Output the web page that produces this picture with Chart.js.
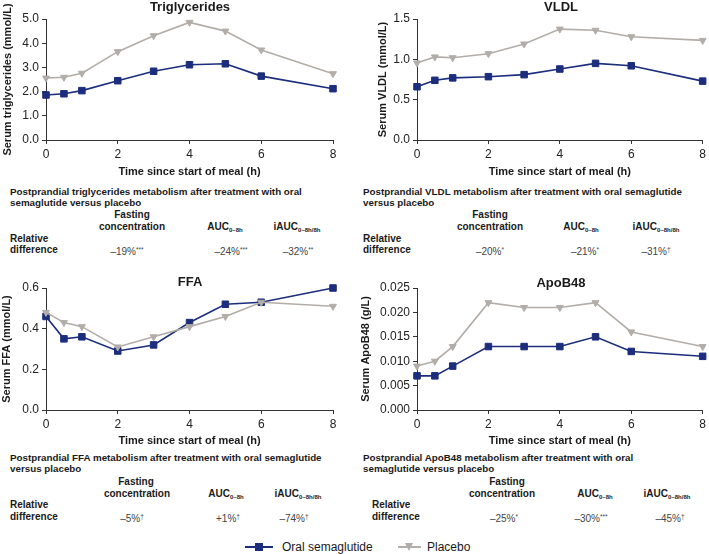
<!DOCTYPE html>
<html>
<head>
<meta charset="utf-8">
<script src="https://cdn.jsdelivr.net/npm/chart.js@4/dist/chart.umd.min.js"></script>
<style>
  body { margin: 0; background: #fff; font-family: "Liberation Sans", Arial, sans-serif; color: #1a1a1a; }
  #page { position: relative; width: 709px; height: 554px; overflow: hidden; }
  canvas { position: absolute; }
  .t { position: absolute; white-space: nowrap; line-height: 12px; font-size: 9.8px; font-weight: bold; }
  .c { text-align: center; width: 140px; }
  .h { font-size: 10px; font-weight: bold; }
  .v { font-size: 10px; font-weight: normal; color: #444; }
  .ttl { position: absolute; width: 160px; text-align: center; font-size: 13px; font-weight: bold; line-height: 16px; }
  sub { font-size: 6px; vertical-align: -2px; }
  sup { font-size: 6.5px; vertical-align: 3px; }
  .leg { position: absolute; top: 540px; height: 14px; font-size: 12px; line-height: 14px; white-space: nowrap; }
  .leg span { position: absolute; white-space: nowrap; }
  .leg .ln { position: absolute; top: 6px; height: 2px; }
  .leg .sq { position: absolute; top: 3px; width: 8px; height: 8px; }
  .leg .tri { position: absolute; top: 3px; width: 0; height: 0; border-left: 4.5px solid transparent; border-right: 4.5px solid transparent; border-top: 8px solid #b2ada8; }
</style>
</head>
<body>
<div id="page">
  <canvas id="cTG" width="350" height="180" style="left:0;top:0"></canvas>
  <canvas id="cVLDL" width="354" height="180" style="left:355px;top:0"></canvas>
  <canvas id="cFFA" width="350" height="180" style="left:0;top:269px"></canvas>
  <canvas id="cAPO" width="354" height="180" style="left:355px;top:269px"></canvas>

  <div class="ttl" style="left:110px;top:-1px">Triglycerides</div>
  <div class="ttl" style="left:481px;top:-1px">VLDL</div>
  <div class="ttl" style="left:110px;top:274px">FFA</div>
  <div class="ttl" style="left:481px;top:275px">ApoB48</div>

  <!-- Triglycerides table -->
  <div class="t" style="left:10px;top:186px">Postprandial triglycerides metabolism after treatment with oral</div>
  <div class="t" style="left:10px;top:197px">semaglutide versus placebo</div>
  <div class="t h c" style="left:62px;top:209px">Fasting</div>
  <div class="t h c" style="left:62px;top:221px">concentration</div>
  <div class="t h c" style="left:155px;top:221px">AUC<sub>0–8h</sub></div>
  <div class="t h c" style="left:227px;top:221px">iAUC<sub>0–8h/8h</sub></div>
  <div class="t h" style="left:10px;top:233px">Relative</div>
  <div class="t h" style="left:10px;top:244px">difference</div>
  <div class="t v c" style="left:57px;top:244px">–19%<sup>***</sup></div>
  <div class="t v c" style="left:161px;top:244px">–24%<sup>***</sup></div>
  <div class="t v c" style="left:228px;top:244px">–32%<sup>**</sup></div>

  <!-- VLDL table -->
  <div class="t" style="left:363px;top:186px">Postprandial VLDL metabolism after treatment with oral semaglutide</div>
  <div class="t" style="left:363px;top:197px">versus placebo</div>
  <div class="t h c" style="left:420px;top:209px">Fasting</div>
  <div class="t h c" style="left:420px;top:221px">concentration</div>
  <div class="t h c" style="left:511px;top:221px">AUC<sub>0–8h</sub></div>
  <div class="t h c" style="left:586px;top:221px">iAUC<sub>0–8h/8h</sub></div>
  <div class="t h" style="left:363px;top:233px">Relative</div>
  <div class="t h" style="left:363px;top:244px">difference</div>
  <div class="t v c" style="left:420px;top:244px">–20%<sup>*</sup></div>
  <div class="t v c" style="left:515px;top:244px">–21%<sup>*</sup></div>
  <div class="t v c" style="left:586px;top:244px">–31%<sup>†</sup></div>

  <!-- FFA table -->
  <div class="t" style="left:10px;top:452px">Postprandial FFA metabolism after treatment with oral semaglutide</div>
  <div class="t" style="left:10px;top:463px">versus placebo</div>
  <div class="t h c" style="left:66px;top:476px">Fasting</div>
  <div class="t h c" style="left:67px;top:488px">concentration</div>
  <div class="t h c" style="left:156px;top:488px">AUC<sub>0–8h</sub></div>
  <div class="t h c" style="left:228px;top:488px">iAUC<sub>0–8h/8h</sub></div>
  <div class="t h" style="left:10px;top:499px">Relative</div>
  <div class="t h" style="left:10px;top:511px">difference</div>
  <div class="t v c" style="left:62px;top:511px">–5%<sup>†</sup></div>
  <div class="t v c" style="left:158px;top:511px">+1%<sup>†</sup></div>
  <div class="t v c" style="left:224px;top:511px">–74%<sup>†</sup></div>

  <!-- ApoB48 table -->
  <div class="t" style="left:363px;top:452px">Postprandial ApoB48 metabolism after treatment with oral</div>
  <div class="t" style="left:363px;top:463px">semaglutide versus placebo</div>
  <div class="t h c" style="left:437px;top:476px">Fasting</div>
  <div class="t h c" style="left:432px;top:488px">concentration</div>
  <div class="t h c" style="left:525px;top:488px">AUC<sub>0–8h</sub></div>
  <div class="t h c" style="left:597px;top:488px">iAUC<sub>0–8h/8h</sub></div>
  <div class="t h" style="left:372px;top:499px">Relative</div>
  <div class="t h" style="left:372px;top:511px">difference</div>
  <div class="t v c" style="left:434px;top:511px">–25%<sup>*</sup></div>
  <div class="t v c" style="left:521px;top:511px">–30%<sup>***</sup></div>
  <div class="t v c" style="left:600px;top:511px">–45%<sup>†</sup></div>

  <!-- shared legend -->
  <div class="leg" style="left:245px;width:130px">
    <div class="ln" style="left:0;width:28px;background:#1b2d7c"></div>
    <div class="sq" style="left:10px;background:#1b2d7c"></div>
    <span style="left:37px">Oral semaglutide</span>
  </div>
  <div class="leg" style="left:398px;width:80px">
    <div class="ln" style="left:0;width:23px;background:#b2ada8"></div>
    <div class="tri" style="left:7px"></div>
    <span style="left:29px">Placebo</span>
  </div>
</div>

<script>
// time points (h)
const TIME_H = [0, 0.5, 1, 2, 3, 4, 5, 6, 8];

// Triglycerides (mmol/L)
const TG_SEMA = [1.86, 1.91, 2.04, 2.45, 2.84, 3.11, 3.15, 2.64, 2.12];
const TG_PLAC = [2.56, 2.59, 2.76, 3.65, 4.31, 4.86, 4.50, 3.72, 2.74];

// VLDL (mmol/L)
const VLDL_SEMA = [0.66, 0.74, 0.77, 0.785, 0.81, 0.88, 0.95, 0.92, 0.73];
const VLDL_PLAC = [0.955, 1.03, 1.02, 1.07, 1.19, 1.375, 1.36, 1.28, 1.235];

// FFA (mmol/L)
const FFA_SEMA = [0.46, 0.35, 0.36, 0.29, 0.32, 0.43, 0.52, 0.53, 0.60];
const FFA_PLAC = [0.48, 0.43, 0.41, 0.31, 0.36, 0.41, 0.46, 0.53, 0.51];

// ApoB48 (g/L)
const APO_SEMA = [0.007, 0.007, 0.009, 0.013, 0.013, 0.013, 0.015, 0.012, 0.011];
const APO_PLAC = [0.009, 0.010, 0.013, 0.022, 0.021, 0.021, 0.022, 0.016, 0.013];

const SEMA_COLOR = '#1b2d7c';
const PLAC_COLOR = '#b2ada8';
const AXIS_COLOR = '#333';
const FONT = '"Liberation Sans", Arial, sans-serif';

function pts(ys) {
    return TIME_H.map((x, i) => ({ x: x, y: ys[i] }));
}

function makeChart(id, sema, plac, cfg) {
    const ctx = document.getElementById(id).getContext('2d');
    return new Chart(ctx, {
        type: 'line',
        data: {
            datasets: [
                {
                    label: 'Placebo',
                    data: pts(plac),
                    borderColor: PLAC_COLOR,
                    backgroundColor: PLAC_COLOR,
                    borderWidth: 1.6,
                    pointStyle: 'triangle',
                    pointRotation: 180,
                    pointRadius: 4,
                    pointBorderWidth: 1,
                    clip: false
                },
                {
                    label: 'Oral semaglutide',
                    data: pts(sema),
                    borderColor: SEMA_COLOR,
                    backgroundColor: SEMA_COLOR,
                    borderWidth: 1.6,
                    pointStyle: 'rect',
                    pointRadius: 4.6,
                    pointBorderWidth: 1,
                    clip: false
                }
            ]
        },
        options: {
            responsive: false,
            animation: false,
            devicePixelRatio: 1,
            layout: { padding: { top: 19, right: cfg.right, left: 0, bottom: 0 } },
            plugins: {
                legend: { display: false },
                tooltip: { enabled: false }
            },
            scales: {
                x: {
                    type: 'linear',
                    min: 0,
                    max: 8,
                    afterFit: s => { s.height = cfg.xh; },
                    ticks: { stepSize: 2, padding: 3, color: '#222', font: { family: FONT, size: 12 } },
                    grid: { drawOnChartArea: false, tickLength: 4, color: AXIS_COLOR },
                    border: { color: AXIS_COLOR, width: 1 },
                    title: {
                        display: true,
                        text: 'Time since start of meal (h)',
                        color: '#1a1a1a',
                        font: { family: FONT, size: 11, weight: 'bold' },
                        padding: { top: 0, bottom: 1 }
                    }
                },
                y: {
                    min: 0,
                    max: cfg.yMax,
                    afterFit: s => { s.width = cfg.yw; },
                    ticks: {
                        stepSize: cfg.step,
                        padding: 3,
                        color: '#222',
                        font: { family: FONT, size: 12 },
                        callback: v => Number(v).toFixed(cfg.dec)
                    },
                    grid: { drawOnChartArea: false, tickLength: 4, color: AXIS_COLOR },
                    border: { color: AXIS_COLOR, width: 1 },
                    title: {
                        display: true,
                        text: cfg.yTitle,
                        color: '#1a1a1a',
                        font: { family: FONT, size: 11, weight: 'bold' },
                        padding: { top: cfg.tp, bottom: 0 }
                    }
                }
            }
        }
    });
}

makeChart('cTG', TG_SEMA, TG_PLAC, {
    yMax: 5, step: 1, dec: 1, yw: 46, xh: 40, right: 17, tp: 1,
    yTitle: 'Serum triglycerides (mmol/L)'
});
makeChart('cVLDL', VLDL_SEMA, VLDL_PLAC, {
    yMax: 1.5, step: 0.5, dec: 1, yw: 62, xh: 40, right: 4, tp: 21,
    yTitle: 'Serum VLDL (mmol/L)'
});
makeChart('cFFA', FFA_SEMA, FFA_PLAC, {
    yMax: 0.6, step: 0.2, dec: 1, yw: 46, xh: 39, right: 17, tp: 0,
    yTitle: 'Serum FFA (mmol/L)'
});
makeChart('cAPO', APO_SEMA, APO_PLAC, {
    yMax: 0.025, step: 0.005, dec: 3, yw: 62, xh: 39, right: 4, tp: 4,
    yTitle: 'Serum ApoB48 (g/L)'
});
</script>
</body>
</html>
